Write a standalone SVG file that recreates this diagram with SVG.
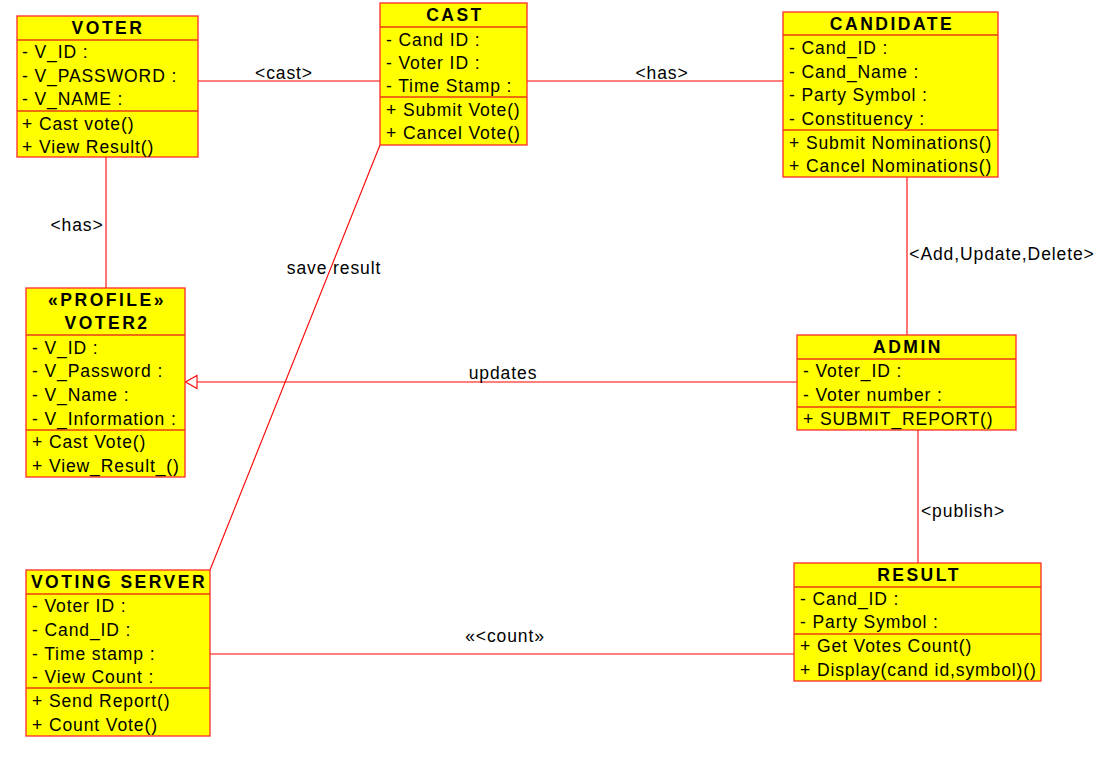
<svg xmlns="http://www.w3.org/2000/svg" width="1111" height="765" viewBox="0 0 1111 765">
<style>
.box{fill:#ffff00;stroke:#ff2a2a;stroke-width:1.3}
.sep{stroke:#e83c10;stroke-width:1.3}
.t{font-family:"Liberation Sans",Arial,sans-serif;font-size:17.5px;letter-spacing:0.9px;fill:#000}
.h{font-family:"Liberation Sans",Arial,sans-serif;font-size:17.5px;font-weight:bold;letter-spacing:2.5px;fill:#000;text-anchor:middle}
.c{stroke:#ff0000;stroke-width:1.1;fill:none}
.l{font-family:"Liberation Sans",Arial,sans-serif;font-size:17.5px;letter-spacing:0.9px;fill:#000;text-anchor:middle}
</style>
<rect width="1111" height="765" fill="#ffffff"/>
<g id="connectors">
<line class="c" x1="198" y1="81" x2="380" y2="81"/>
<line class="c" x1="527" y1="81" x2="783" y2="81"/>
<line class="c" x1="106" y1="157" x2="106" y2="288"/>
<line class="c" x1="907" y1="177" x2="907" y2="335"/>
<line class="c" x1="797" y1="382" x2="197" y2="382"/>
<polygon class="c" points="185.5,382 197,375.5 197,388.5"/>
<line class="c" x1="918" y1="430" x2="918" y2="563"/>
<line class="c" x1="210" y1="654" x2="794" y2="654"/>
<line class="c" x1="380" y1="145" x2="210" y2="570"/>
<text class="l" x="284" y="79">&lt;cast&gt;</text>
<text class="l" x="662" y="79">&lt;has&gt;</text>
<text class="l" x="77" y="231">&lt;has&gt;</text>
<text class="l" x="1002" y="260">&lt;Add,Update,Delete&gt;</text>
<text class="l" x="503" y="379">updates</text>
<text class="l" x="963" y="517">&lt;publish&gt;</text>
<text class="l" x="505" y="642">«&lt;count»</text>
<text class="l" x="334" y="274">save result</text>
</g>
<g id="voter">
<rect class="box" x="17" y="16" width="181" height="141"/>
<line class="sep" x1="17" y1="40" x2="198" y2="40"/>
<line class="sep" x1="17" y1="111" x2="198" y2="111"/>
<text class="h" x="108" y="34">VOTER</text>
<text class="t" x="22" y="58">- V_ID :</text>
<text class="t" x="22" y="82">- V_PASSWORD :</text>
<text class="t" x="22" y="105">- V_NAME :</text>
<text class="t" x="22" y="130">+ Cast vote()</text>
<text class="t" x="22" y="153">+ View Result()</text>
</g>
<g id="cast">
<rect class="box" x="380" y="3" width="147" height="142"/>
<line class="sep" x1="380" y1="27" x2="527" y2="27"/>
<line class="sep" x1="380" y1="97" x2="527" y2="97"/>
<text class="h" x="455" y="21">CAST</text>
<text class="t" x="386" y="46">- Cand ID :</text>
<text class="t" x="386" y="69">- Voter ID :</text>
<text class="t" x="386" y="92">- Time Stamp :</text>
<text class="t" x="386" y="116">+ Submit Vote()</text>
<text class="t" x="386" y="139">+ Cancel Vote()</text>
</g>
<g id="candidate">
<rect class="box" x="783" y="12" width="215" height="165"/>
<line class="sep" x1="783" y1="35" x2="998" y2="35"/>
<line class="sep" x1="783" y1="130" x2="998" y2="130"/>
<text class="h" x="892" y="30">CANDIDATE</text>
<text class="t" x="789" y="54">- Cand_ID :</text>
<text class="t" x="789" y="78">- Cand_Name :</text>
<text class="t" x="789" y="101">- Party Symbol :</text>
<text class="t" x="789" y="125">- Constituency :</text>
<text class="t" x="789" y="149">+ Submit Nominations()</text>
<text class="t" x="789" y="172">+ Cancel Nominations()</text>
</g>
<g id="voter2">
<rect class="box" x="26" y="288" width="159" height="189"/>
<line class="sep" x1="26" y1="335" x2="185" y2="335"/>
<line class="sep" x1="26" y1="430" x2="185" y2="430"/>
<text class="h" x="107" y="306">«PROFILE»</text>
<text class="h" x="107" y="329">VOTER2</text>
<text class="t" x="32" y="354">- V_ID :</text>
<text class="t" x="32" y="377">- V_Password :</text>
<text class="t" x="32" y="401">- V_Name :</text>
<text class="t" x="32" y="425">- V_Information :</text>
<text class="t" x="32" y="448">+ Cast Vote()</text>
<text class="t" x="32" y="472">+ View_Result_()</text>
</g>
<g id="admin">
<rect class="box" x="797" y="335" width="219" height="95"/>
<line class="sep" x1="797" y1="359" x2="1016" y2="359"/>
<line class="sep" x1="797" y1="407" x2="1016" y2="407"/>
<text class="h" x="908" y="353">ADMIN</text>
<text class="t" x="803" y="377">- Voter_ID :</text>
<text class="t" x="803" y="401">- Voter number :</text>
<text class="t" x="803" y="425">+ SUBMIT_REPORT()</text>
</g>
<g id="voting-server">
<rect class="box" x="26" y="570" width="184" height="166"/>
<line class="sep" x1="26" y1="594" x2="210" y2="594"/>
<line class="sep" x1="26" y1="688" x2="210" y2="688"/>
<text class="h" x="119" y="588">VOTING SERVER</text>
<text class="t" x="32" y="612">- Voter ID :</text>
<text class="t" x="32" y="636">- Cand_ID :</text>
<text class="t" x="32" y="660">- Time stamp :</text>
<text class="t" x="32" y="683">- View Count :</text>
<text class="t" x="32" y="707">+ Send Report()</text>
<text class="t" x="32" y="731">+ Count Vote()</text>
</g>
<g id="result">
<rect class="box" x="794" y="563" width="247" height="118"/>
<line class="sep" x1="794" y1="587" x2="1041" y2="587"/>
<line class="sep" x1="794" y1="634" x2="1041" y2="634"/>
<text class="h" x="919" y="581">RESULT</text>
<text class="t" x="800" y="605">- Cand_ID :</text>
<text class="t" x="800" y="628">- Party Symbol :</text>
<text class="t" x="800" y="652">+ Get Votes Count()</text>
<text class="t" x="800" y="676">+ Display(cand id,symbol)()</text>
</g>
</svg>
